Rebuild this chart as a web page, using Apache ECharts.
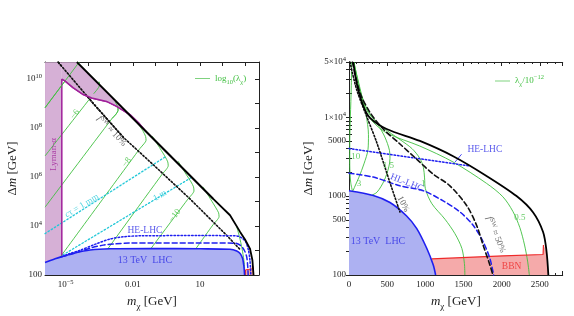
<!DOCTYPE html>
<html><head><meta charset="utf-8">
<script src="https://cdn.jsdelivr.net/npm/echarts@6/dist/echarts.min.js"></script>
<style>html,body{margin:0;padding:0;background:#fff}#c{width:574px;height:316px}</style>
</head><body><div id="c"></div>
<script>
// ---------- LEFT PANEL (values read as log10 m, log10 Δm) ----------
const L_black = [[-4.50,10.69],[1.59,5.11],[2.34,4.44],[2.79,3.76],[3.01,3.45],[3.23,3.08],[3.34,2.60],[3.39,2.0]];
const L_dot10 = [[-5.33,10.69],[-3.76,9.0],[-2.42,7.62],[-0.93,6.37],[0.55,5.11],[2.19,3.62],[2.79,3.04]];
const L_lymanLine = [[-5.17,2.81],[-5.17,10.0],[-5.03,9.93],[-4.67,9.65],[-4.21,9.37],[-3.84,9.23],[-3.17,9.09],[-2.72,8.89],[-2.13,8.55],[-1.75,8.22],[-1.5,7.94]];
const L_lymanBand = [[-5.92,2.0],[-5.92,10.69],[-5.17,10.69],[-5.17,2.0]];
const L_lymanTop = [[-5.17,10.69],[-4.50,10.69],[-1.5,7.94],[-1.75,8.22],[-2.13,8.55],[-2.72,8.89],[-3.17,9.09],[-3.84,9.23],[-4.21,9.37],[-4.67,9.65],[-5.03,9.93],[-5.17,10.0]];
const L_lhc13 = [[-5.92,2.51],[-5.47,2.66],[-5.17,2.75],[-4.58,2.90],[-3.91,3.02],[-3.02,3.07],[-1.23,3.08],[1.0,3.07],[2.34,3.05],[2.64,2.98],[2.79,2.88],[2.90,2.68],[2.96,2.35],[2.99,2.0]];
const L_hl = [[-5.17,2.75],[-4.80,2.84],[-4.36,2.96],[-3.91,3.10],[-3.32,3.22],[-2.79,3.27],[-2.13,3.31],[1.0,3.31],[2.56,3.30],[2.79,3.22],[2.96,3.04],[3.08,2.76],[3.13,2.35],[3.15,2.0]];
const L_he = [[-5.17,2.75],[-4.80,2.88],[-4.36,3.01],[-3.61,3.28],[-3.02,3.47],[-2.42,3.56],[-1.68,3.60],[1.0,3.61],[2.61,3.60],[2.875,3.51],[3.05,3.33],[3.165,3.0],[3.23,2.59],[3.27,2.0]];
const L_bbn = [[3.03,2.0],[3.03,2.21],[3.33,2.25],[3.34,2.40],[3.37,2.3],[3.39,2.0]];
const L_cyan1mm = [[-5.92,3.69],[-0.49,6.86]];
const L_cyan1m = [[-5.12,2.82],[0.63,5.99]];
const lamL5 = [[-5.92,8.83],[-4.40,10.69]];
const lamL6 = [[-5.92,6.86],[-3.75,9.40],[-3.58,9.59],[-3.49,9.73],[-3.51,9.89]];
const lamL7 = [[-5.92,4.77],[-2.93,8.39],[-2.75,8.57],[-2.66,8.72],[-2.68,8.88],[-2.79,9.08]];
const lamL8 = [[-5.61,2.27],[-1.68,7.17],[-1.50,7.36],[-1.41,7.50],[-1.43,7.66],[-1.54,7.87],[-1.77,8.19]];
const lamL9 = [[-3.75,2.27],[-0.68,6.13],[-0.50,6.32],[-0.42,6.46],[-0.44,6.62],[-0.55,6.82],[-0.77,7.15],[-1.13,7.67]];
const lamL10 = [[-1.85,2.27],[0.46,5.10],[0.64,5.29],[0.73,5.43],[0.71,5.60],[0.60,5.80],[0.375,6.12],[0.02,6.65]];
const lamL11 = [[0.19,2.27],[1.58,4.05],[1.76,4.24],[1.85,4.38],[1.83,4.54],[1.71,4.74],[1.49,5.07],[1.13,5.60]];
const lamL12 = [[2.83,2.0],[2.99,2.27],[2.96,2.60],[2.875,3.08],[2.76,3.57],[2.64,3.97]];
const xTicksL = [1e-5, 0.01, 10];
const yTicksL = [100, 1e4, 1e6, 1e8, 1e10];

// ---------- RIGHT PANEL (m in GeV, Δm in GeV) ----------
const R_black = [[56,50000],[100,27000],[187,13800],[275,9800],[493,7080],[929,5000],[1365,3200],[1802,1800],[2195,1000],[2413,620],[2543,350],[2588,200],[2612,100]];
const R_dash50 = [[45,50000],[144,20400],[275,11500],[449,7080],[668,4570],[886,2940],[1103,1900],[1322,1350],[1541,760],[1672,426],[1758,238],[1846,134],[1885,100]];
const R_dot10 = [[13,50000],[100,22400],[232,10200],[363,4790],[537,1480],[667,630]];
const R_lhc13 = [[0,1170],[318,1020],[537,830],[755,560],[886,390],[1017,220],[1103,135],[1135,100]];
const R_hl = [[0,1950],[318,1740],[667,1350],[973,1170],[1234,870],[1453,630],[1627,426],[1758,263],[1846,162],[1895,100]];
const R_he = [[0,4000],[1584,2400]];
const R_hePointer = [[1388,2690],[1475,3390]];
const R_bbnLine = [[1082,160],[2020,175],[2543,182],[2548,240]];
const R_bbnRegion = [[1082,160],[2020,175],[2543,182],[2548,240],[2588,200],[2612,100],[1135,100],[1103,135]];
const lamR10 = [[35,50000],[30,25000],[18,10000],[10,5000],[10,2500],[22,1500],[45,1160]];
const lamR3 = [[60,50000],[118,29600],[170,18200],[223,10800],[255,6000],[249,3900],[196,2560],[131,1740],[79,1340],[52,1165]];
const lamR15 = [[66,50000],[150,21000],[250,12000],[380,8000],[470,5600],[530,3800],[537,3000],[520,2300],[458,1550],[367,1120],[301,1030]];
const lamR1 = [[63,50000],[130,22000],[250,11500],[445,7400],[668,5200],[825,4000],[929,3000],[975,2300],[990,1700],[1000,1250],[1086,800],[1257,510],[1388,334],[1479,217],[1512,140],[1518,100]];
const lamR05 = [[60,50000],[110,25000],[200,13000],[300,9000],[493,6300],[929,4300],[1365,2700],[1802,1450],[2016,980],[2147,640],[2238,400],[2300,240],[2340,150],[2363,100]];
const xTicksR = [0,500,1000,1500,2000,2500];
const yTicksR = [100,500,1000,5000,10000,50000];

// ---------- styling ----------
const FONT = 'Liberation Serif';
const GREEN = '#3fbf3f', BLUE = '#1f1ff0', CYAN = '#22c8d8', PURPLE = '#a0209a', RED = '#ee2a2a';
const LBLUE = '#2e2ee6', PURPLE_FILL = '#d6b0d6';
const ex = a => a.map(([u, v]) => [Math.pow(10, u), Math.pow(10, v)]);

const tickRich = {
  n: {fontFamily: FONT, fontSize: 9, color: '#222', lineHeight: 12},
  e: {fontFamily: FONT, fontSize: 6.5, color: '#222', lineHeight: 12, verticalAlign: 'top'}
};
const nameRich = {
  r: {fontFamily: FONT, fontSize: 13, color: '#222'},
  i: {fontFamily: FONT, fontSize: 13, color: '#222', fontStyle: 'italic'},
  s: {fontFamily: FONT, fontSize: 9, color: '#222', verticalAlign: 'bottom', lineHeight: 18}
};
function supFmt(v) {
  const e = Math.round(Math.log10(v));
  return '{n|10}{e|' + (e < 0 ? '−' + (-e) : e) + '}';
}
const axLine = {show: true, lineStyle: {color: '#222', width: 1}};
function logDecades(a, b) { const r = []; for (let e = a; e <= b; e++) r.push(Math.pow(10, e)); return r; }
const rYminor = [100,200,300,400,500,600,700,800,900,1000,2000,3000,4000,5000,6000,7000,8000,9000,10000,20000,30000,40000,50000];

const XL_MIN = 1.2e-6, XL_MAX = 4300, YL_MIN = 100, YL_MAX = 5e10;
const XR_MIN = 0, XR_MAX = 2800, YR_MIN = 100, YR_MAX = 50000;

function lxAxis(pos, show) {
  return {gridIndex: 0, type: 'log', logBase: 10, min: XL_MIN, max: XL_MAX, position: pos,
    axisLine: axLine, splitLine: {show: false},
    axisTick: {show: true, inside: true, length: 4, lineStyle: {color: '#222'}, customValues: logDecades(-5, 3)},
    axisLabel: {show: show, customValues: xTicksL, margin: 4,
      formatter: v => (v < 1e-3 ? supFmt(v) : '{n|' + (v === 0.01 ? '0.01' : '10') + '}'), rich: tickRich},
    name: show ? '{i|m}{s|χ}{r| [GeV]}' : '', nameLocation: 'middle', nameGap: 18, nameTextStyle: {rich: nameRich}};
}
function lyAxis(pos, show) {
  return {gridIndex: 0, type: 'log', logBase: 10, min: YL_MIN, max: YL_MAX, position: pos,
    axisLine: axLine, splitLine: {show: false},
    axisTick: {show: true, inside: true, length: 4, lineStyle: {color: '#222'}, customValues: logDecades(2, 10)},
    axisLabel: {show: show, customValues: yTicksL, margin: 3,
      formatter: v => (v === 100 ? '{n|100}' : supFmt(v)), rich: tickRich},
    name: show ? '{r|Δ}{i|m}{r| [GeV]}' : '', nameLocation: 'middle', nameGap: 26, nameTextStyle: {rich: nameRich}};
}
function rxAxis(pos, show) {
  return {gridIndex: 1, type: 'value', min: XR_MIN, max: XR_MAX, interval: 500, position: pos,
    axisLine: axLine, splitLine: {show: false},
    axisTick: {show: true, inside: true, length: 4, lineStyle: {color: '#222'}},
    minorTick: {show: true, splitNumber: 5, length: 2, lineStyle: {color: '#222'}},
    axisLabel: {show: show, customValues: xTicksR, margin: 4, formatter: v => '{n|' + v + '}', rich: tickRich},
    name: show ? '{i|m}{s|χ}{r| [GeV]}' : '', nameLocation: 'middle', nameGap: 18, nameTextStyle: {rich: nameRich}};
}
function ryAxis(pos, show) {
  return {gridIndex: 1, type: 'log', logBase: 10, min: YR_MIN, max: YR_MAX, position: pos,
    axisLine: axLine, splitLine: {show: false},
    axisTick: {show: true, inside: true, length: 3, lineStyle: {color: '#222'}, customValues: rYminor},
    axisLabel: {show: show, customValues: yTicksR, margin: 3,
      formatter: v => v === 50000 ? '{n|5×10}{e|4}' : (v === 10000 ? '{n|1×10}{e|4}' : '{n|' + v + '}'), rich: tickRich},
    name: show ? '{r|Δ}{i|m}{r| [GeV]}' : '', nameLocation: 'middle', nameGap: 34, nameTextStyle: {rich: nameRich}};
}

function line(xi, yi, data, color, width, type, z, name, smooth) {
  return {type: 'line', xAxisIndex: xi, yAxisIndex: yi, data: data, symbol: 'none', showSymbol: false,
    name: name, silent: true, animation: false, z: z || 3, smooth: smooth || 0, clip: true,
    itemStyle: {color: color},
    lineStyle: {color: color, width: width, type: type || 'solid', cap: type === 'solid' || !type ? 'butt' : 'round'}};
}
function poly(xi, yi, pts, fill, z) {
  return {type: 'custom', xAxisIndex: xi, yAxisIndex: yi, data: [pts[0]], silent: true, animation: false, z: z, clip: true,
    renderItem: (params, api) => ({type: 'polygon', shape: {points: pts.map(p => api.coord(p))},
      style: {fill: fill}})};
}
function labels(xi, yi, items) {
  return {type: 'scatter', xAxisIndex: xi, yAxisIndex: yi, symbolSize: 1, itemStyle: {color: 'rgba(0,0,0,0)'}, silent: true,
    animation: false, z: 10,
    data: items.map(it => ({value: [it[0], it[1]], label: Object.assign({show: true, position: 'inside',
      fontFamily: FONT, fontSize: 9, color: it[4], rotate: it[3] || 0, formatter: it[2],
      rich: {i: {fontStyle: 'italic', fontFamily: FONT, fontSize: 9, color: it[4]},
             s: {fontFamily: FONT, fontSize: 6.5, color: it[4], verticalAlign: 'top', lineHeight: 11},
             r: {fontFamily: FONT, fontSize: 9, color: it[4], lineHeight: 11}}}, it[5] || {})}))};
}

const LEG_L = 'log10(λχ)', LEG_R = 'λχ/1e-12';
const series = [];
// left panel
series.push(poly(0, 0, ex(L_lymanBand), PURPLE_FILL, 1));
[lamL5, lamL6, lamL7, lamL8, lamL9, lamL10, lamL11, lamL12].forEach(a => series.push(line(0, 0, ex(a), GREEN, 0.9, 'solid', 2, LEG_L, 0.25)));
series.push(line(0, 0, ex(L_lymanLine), PURPLE, 1.5, 'solid', 4, null, 0));
series.push(line(0, 0, ex(L_cyan1mm), CYAN, 1.3, [1.5, 2.2], 3));
series.push(line(0, 0, ex(L_cyan1m), CYAN, 1.3, [1.5, 2.2], 3));
series.push(line(0, 0, ex(L_dot10), '#111', 1.6, [1.5, 2.0], 4, null, 0));
series.push(poly(0, 0, ex(L_lhc13.concat([[-5.92, 2.0]])), '#adb1f2', 5));
series.push(poly(0, 0, ex(L_bbn), '#f3a9a0', 5));
series.push(line(0, 0, ex(L_bbn), RED, 1, 'solid', 6));
series.push(line(0, 0, ex(L_lhc13), BLUE, 1.6, 'solid', 6, null, 0.3));
series.push(line(0, 0, ex(L_hl), BLUE, 1.5, [5, 3], 6, null, 0.3));
series.push(line(0, 0, ex(L_he), BLUE, 1.5, [1.5, 2.0], 6, null, 0.3));
series.push(line(0, 0, ex(L_black), '#000', 1.8, 'solid', 7, null, 0));
// right panel
series.push(poly(2, 2, R_lhc13.concat([[0, 100]]), '#adb1f2', 1));
series.push(poly(2, 2, R_bbnRegion, '#f5aaaa', 1));
[lamR10, lamR3, lamR15, lamR1, lamR05].forEach(a => series.push(line(2, 2, a, GREEN, 0.9, 'solid', 3, LEG_R, 0.3)));
series.push(line(2, 2, R_bbnLine, RED, 1.2, 'solid', 4));
series.push(line(2, 2, R_lhc13, BLUE, 1.6, 'solid', 5, null, 0.3));
series.push(line(2, 2, R_hl, BLUE, 1.5, [5, 3], 5, null, 0.3));
series.push(line(2, 2, R_he, BLUE, 1.5, [1.5, 2.0], 5));
series.push(line(2, 2, R_hePointer, BLUE, 0.8, 'solid', 5));
series.push(line(2, 2, R_dot10, '#111', 1.6, [1.5, 2.0], 5, null, 0.3));
series.push(line(2, 2, R_dash50, '#111', 1.6, [5, 3], 5, null, 0.3));
series.push(line(2, 2, R_black, '#000', 1.8, 'solid', 7, null, 0.3));

const P10 = Math.pow.bind(null, 10);
series.push(labels(0, 0, [
  [P10(-4.58), P10(8.56), '−6', 52, GREEN],
  [P10(-2.27), P10(6.60), '−8', 52, GREEN],
  [P10(-0.12), P10(4.43), '−10', 52, GREEN],
  [P10(-4.28), P10(4.83), '{i|c}{r|τ = 1 mm}', 31, CYAN],
  [P10(-0.79), P10(5.24), '1 m', 31, CYAN],
  [P10(-2.94), P10(7.88), '{i|f}{s|SW}{r| ≈ 10%}', -47, '#444'],
  [P10(-5.54), P10(6.93), 'Lyman-α', 90, PURPLE],
  [P10(-1.46), P10(3.83), 'HE-LHC', 0, LBLUE, {fontSize: 9.5}],
  [P10(-1.46), P10(2.60), '13 TeV  LHC', 0, LBLUE, {fontSize: 10}]
]));
series.push(labels(2, 2, [
  [90, 3160, '10', 0, GREEN], [131, 1420, '3', 0, GREEN], [515, 2400, '1.5', 0, GREEN],
  [973, 1420, '1', 0, GREEN], [2238, 540, '0.5', 0, GREEN],
  [711, 795, '10%', -62, '#444'],
  [1924, 325, '{i|f}{s|SW}{r| ≈ 50%}', -68, '#444'],
  [759, 1470, 'HL-LHC', -22, LBLUE, {fontSize: 9.5}],
  [1780, 3900, 'HE-LHC', 0, LBLUE, {fontSize: 9.5}],
  [380, 263, '13 TeV  LHC', 0, LBLUE, {fontSize: 10}],
  [2130, 127, 'BBN', 0, RED, {fontSize: 9.5}]
]));

const legRich = {
  a: {fontFamily: FONT, fontSize: 9, color: GREEN, lineHeight: 12},
  b: {fontFamily: FONT, fontSize: 6.5, color: GREEN, verticalAlign: 'bottom', lineHeight: 14},
  c: {fontFamily: FONT, fontSize: 6.5, color: GREEN, verticalAlign: 'top', lineHeight: 12}
};
const legBase = {itemWidth: 15, itemHeight: 1, itemGap: 5, selectedMode: false, icon: 'rect',
  itemStyle: {color: '#7fd27f'}};
const option = {
  backgroundColor: '#fff',
  animation: false,
  grid: [{left: 45, top: 62, width: 214, height: 214.7}, {left: 349, top: 62, width: 213.7, height: 214.7}],
  xAxis: [lxAxis('bottom', true), lxAxis('top', false), rxAxis('bottom', true), rxAxis('top', false)],
  yAxis: [lyAxis('left', true), lyAxis('right', false), ryAxis('left', true), ryAxis('right', false)],
  legend: [
    Object.assign({data: [{name: LEG_L, icon: 'rect'}], left: 190, top: 69,
      formatter: () => '{a|log}{b|10}{a|(λ}{b|χ}{a|)}', textStyle: {rich: legRich}}, legBase),
    Object.assign({data: [{name: LEG_R, icon: 'rect'}], left: 490, top: 69,
      formatter: () => '{a|λ}{b|χ}{a|/10}{c|−12}', textStyle: {rich: legRich}}, legBase)
  ],
  series: series
};
const chart = echarts.init(document.getElementById('c'), null, {renderer: 'canvas'});
chart.setOption(option);

// Lyman-alpha upper region and the curves crossing it, mapped through the chart's own axes
const toPx = a => ex(a).map(p => chart.convertToPixel({xAxisIndex: 0, yAxisIndex: 0}, p));
const ovLine = (a, stroke, w, dash, smooth) => ({type: 'polyline', z: 101, silent: true,
  shape: {points: toPx(a), smooth: smooth || 0},
  style: {stroke: stroke, lineWidth: w, fill: 'none', lineDash: dash || null, lineCap: dash ? 'round' : 'butt'}});
chart.setOption({graphic: [
  {type: 'polygon', z: 100, silent: true, shape: {points: toPx(L_lymanTop)}, style: {fill: PURPLE_FILL, stroke: 'none'}},
  ovLine(lamL5, GREEN, 0.9),
  ovLine(lamL6.slice(1), GREEN, 0.9, null, 0.25),
  ovLine(lamL7.slice(1), GREEN, 0.9, null, 0.25),
  ovLine(L_dot10.slice(0, 3), '#111', 1.6, [1.5, 2.0]),
  ovLine(L_lymanLine.slice(1), PURPLE, 1.5),
  ovLine(L_black.slice(0, 2), '#000', 1.8)
]});
</script></body></html>
